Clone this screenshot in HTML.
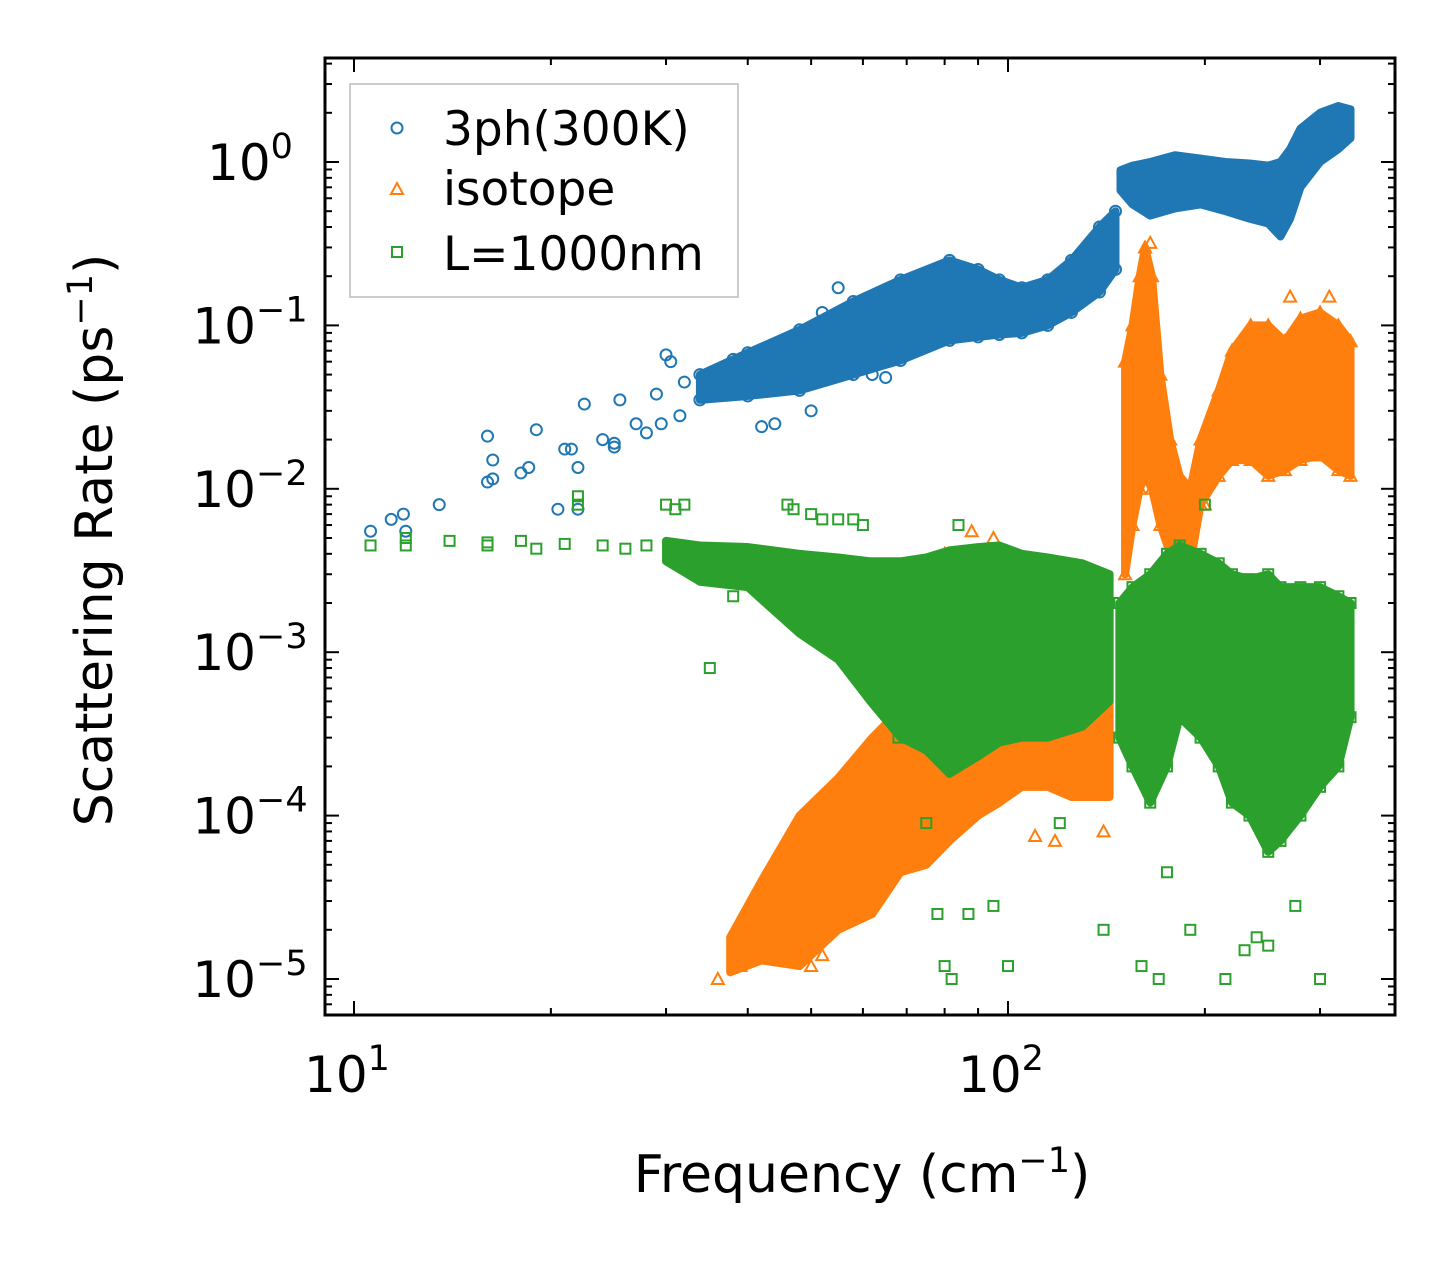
<!DOCTYPE html>
<html><head><meta charset="utf-8">
<style>
html,body{margin:0;padding:0;background:#fff;}
svg{display:block;font-family:"DejaVu Sans","Liberation Sans",sans-serif;}
</style></head>
<body>
<svg id="chart" width="1455" height="1265" viewBox="0 0 1455 1265" xmlns="http://www.w3.org/2000/svg">
<rect x="0" y="0" width="1455" height="1265" fill="#fff"/>
<g id="marks"></g>
<g id="axes"></g>
<rect x="325" y="58" width="1070" height="957" fill="none" stroke="#000" stroke-width="3"/>
<g>
<rect x="350" y="84" width="388" height="213" fill="#fff" fill-opacity="0.8" stroke="#bbb" stroke-width="1.5"/>
<circle cx="397" cy="128" r="5.5" fill="none" stroke="#1f77b4" stroke-width="2"/>
<text x="443" y="145" font-size="47">3ph(300K)</text>
<path d="M397,183 L403,194 L391,194 Z" fill="none" stroke="#ff7f0e" stroke-width="2"/>
<text x="443" y="205" font-size="47">isotope</text>
<rect x="392" y="247" width="10" height="10" fill="none" stroke="#2ca02c" stroke-width="2"/>
<text x="443" y="270" font-size="47">L=1000nm</text>
</g>
<text x="862" y="1192" font-size="52" text-anchor="middle">Frequency (cm<tspan dy="-20" font-size="35">−1</tspan><tspan dy="20">)</tspan></text>
<text transform="translate(112,540) rotate(-90)" font-size="52" text-anchor="middle">Scattering Rate (ps<tspan dy="-20" font-size="35">−1</tspan><tspan dy="20">)</tspan></text>
</svg>
<script>
// ---- data ----
const blueFreq = [33.8, 40, 48, 58, 68.5, 81.4, 90, 97, 105, 115, 125, 138, 146];
const blueLo   = [0.035,0.037,0.040,0.050,0.061,0.081,0.085,0.088,0.090,0.10,0.12,0.16,0.22];
const blueHi   = [0.050,0.068,0.094,0.14,0.19,0.25,0.22,0.19,0.17,0.19,0.25,0.40,0.50];
const blueFreq2 = [148.6,155,165,180,197,215,234,250,261,270,280,300,320,334];
const blueLo2   = [0.67,0.55,0.47,0.52,0.55,0.50,0.45,0.42,0.35,0.45,0.70,1.0,1.2,1.4];
const blueHi2   = [0.89,0.95,1.0,1.1,1.05,1.0,0.98,0.95,1.0,1.2,1.6,2.0,2.2,2.1];
const blueOutF = [10.6,11.4,11.9,12,13.5,16,16,16.3,16.3,18,18.5,19,20.5,21,21.5,22,22,22.5,24,25,25,25.5,27,28,29,30,30.5,31.5,32,29.5,38,42,44,46,50,52,55,62,65];
const blueOutV = [0.0055,0.0065,0.007,0.0055,0.008,0.021,0.011,0.015,0.0115,0.0125,0.0135,0.023,0.0075,0.0175,0.0175,0.0075,0.0135,0.033,0.02,0.019,0.018,0.035,0.025,0.022,0.038,0.066,0.06,0.028,0.045,0.025,0.062,0.024,0.025,0.05,0.03,0.12,0.17,0.05,0.048];

const orFreq = [37.6,42,48,55,62,68.5,75,81.4,90,97,105,115,125,143];
const orLo   = [1.1e-5,1.3e-5,1.2e-5,2e-5,2.5e-5,4.5e-5,5e-5,7e-5,1e-4,1.2e-4,1.5e-4,1.5e-4,1.3e-4,1.3e-4];
const orHi   = [1.8e-5,4e-5,1e-4,1.7e-4,3e-4,4.5e-4,8e-4,1.2e-3,1.5e-3,2e-3,1.8e-3,1.5e-3,1.8e-3,2e-3];
const orFreq2 = [151,155,159,162,166,171,177,183,190,197,210,220,235,250,265,280,300,320,334];
const orLo2   = [3e-3,6e-3,1e-2,1.2e-2,1e-2,6e-3,4e-3,4e-3,3.5e-3,8e-3,1.2e-2,1.5e-2,1.5e-2,1.2e-2,1.3e-2,1.5e-2,1.6e-2,1.3e-2,1.2e-2];
const orHi2   = [0.06,0.1,0.2,0.3,0.2,0.05,0.02,0.012,0.01,0.02,0.04,0.07,0.1,0.1,0.08,0.11,0.12,0.1,0.08];
const orOutF = [36,39,45,50,52,80,88,95,110,118,140,160,165,185,200,270,310,330];
const orOutV = [1e-5,1.2e-5,1.3e-5,1.2e-5,1.4e-5,4e-3,5.5e-3,5e-3,7.5e-5,7e-5,8e-5,2e-3,0.32,0.005,0.008,0.15,0.15,0.013];

const grFreq = [30,33.8,40,48,55,61.6,68.5,75,81.4,90,97,105,115,130,143];
const grLo   = [3.6e-3,2.7e-3,2.5e-3,1.3e-3,9e-4,5e-4,3e-4,2.5e-4,1.8e-4,2.3e-4,2.8e-4,3e-4,3e-4,3.5e-4,5e-4];
const grHi   = [4.8e-3,4.5e-3,4.4e-3,4e-3,3.8e-3,3.6e-3,3.6e-3,3.8e-3,4.2e-3,4.4e-3,4.5e-3,4e-3,3.8e-3,3.5e-3,3e-3];
const grFreq2 = [148,155,165,175,183,197,210,220,234,250,261,280,300,320,334];
const grLo2   = [3e-4,2e-4,1.2e-4,2e-4,4e-4,3e-4,2e-4,1.2e-4,1e-4,6e-5,7e-5,1e-4,1.5e-4,2e-4,4e-4];
const grHi2   = [2e-3,2.5e-3,3e-3,4e-3,4.5e-3,4e-3,3.5e-3,3e-3,2.8e-3,3e-3,2.5e-3,2.5e-3,2.5e-3,2.2e-3,2e-3];
const grOutF = [10.6,12,12,14,16,16,18,19,21,22,22,24,26,28,30,31,32,34,36,38,40,35,46,47,50,52,55,58,60,64,68,75,78,80,82,84,87,95,100,120,140,160,170,175,190,200,215,230,240,250,275,300];
const grOutV = [4.5e-3,5e-3,4.5e-3,4.8e-3,4.5e-3,4.7e-3,4.8e-3,4.3e-3,4.6e-3,9e-3,8e-3,4.5e-3,4.3e-3,4.5e-3,8e-3,7.5e-3,8e-3,4.2e-3,3.5e-3,2.2e-3,3e-3,8e-4,8e-3,7.5e-3,7e-3,6.5e-3,6.5e-3,6.5e-3,6e-3,5e-4,3e-4,9e-5,2.5e-5,1.2e-5,1e-5,6e-3,2.5e-5,2.8e-5,1.2e-5,9e-5,2e-5,1.2e-5,1e-5,4.5e-5,2e-5,8e-3,1e-5,1.5e-5,1.8e-5,1.6e-5,2.8e-5,1e-5];

const xTicks = [10,100];
const xTickLabels = ["10","10"];
const xTickExp = ["1","2"];
const yTicks = [1,0.1,0.01,1e-3,1e-4,1e-5];
const yTickExp = ["0","−1","−2","−3","−4","−5"];

// ---- axes ----
const X0=354, XD=654, Y0=162, YD=163.4;
const sx = f => X0 + (Math.log10(f)-1)*XD;
const sy = v => Y0 - Math.log10(v)*YD;
const NS="http://www.w3.org/2000/svg";
const marks=document.getElementById('marks');
const axes=document.getElementById('axes');
function mk(tag, attrs, parent){const e=document.createElementNS(NS,tag);for(const k in attrs)e.setAttribute(k,attrs[k]);parent.appendChild(e);return e;}

function band(fs,lo,hi,color,name){
  let pts=fs.map((f,i)=>sx(f)+','+sy(hi[i]));
  for(let i=fs.length-1;i>=0;i--)pts.push(sx(fs[i])+','+sy(lo[i]));
  const p=mk('polygon',{points:pts.join(' '),fill:color,stroke:color,'stroke-width':8,'stroke-linejoin':'round'},marks);
  
  
}
function marker(type,f,v,color,name){
  const x=sx(f),y=sy(v);let e;
  if(type==='c')e=mk('circle',{cx:x,cy:y,r:5.5,fill:'none',stroke:color,'stroke-width':2},marks);
  else if(type==='t')e=mk('path',{d:`M${x},${y-6} L${x+6},${y+5} L${x-6},${y+5} Z`,fill:'none',stroke:color,'stroke-width':2},marks);
  else e=mk('rect',{x:x-5,y:y-5,width:10,height:10,fill:'none',stroke:color,'stroke-width':2},marks);
  
  
}
const B='#1f77b4',O='#ff7f0e',G='#2ca02c';
band(blueFreq,blueLo,blueHi,B,'3ph-band-low');
band(blueFreq2,blueLo2,blueHi2,B,'3ph-band-high');
blueOutF.forEach((f,i)=>marker('c',f,blueOutV[i],B,'3ph-point'));
blueFreq.forEach((f,i)=>{marker('c',f,blueLo[i],B,'3ph-point');marker('c',f,blueHi[i],B,'3ph-point');});
band(orFreq,orLo,orHi,O,'isotope-band-low');
band(orFreq2,orLo2,orHi2,O,'isotope-band-high');
orOutF.forEach((f,i)=>marker('t',f,orOutV[i],O,'isotope-point'));
orFreq2.forEach((f,i)=>{marker('t',f,orLo2[i],O,'isotope-point');marker('t',f,orHi2[i],O,'isotope-point');});
band(grFreq,grLo,grHi,G,'boundary-band-low');
band(grFreq2,grLo2,grHi2,G,'boundary-band-high');
grOutF.forEach((f,i)=>marker('s',f,grOutV[i],G,'boundary-point'));
grFreq2.forEach((f,i)=>{marker('s',f,grLo2[i],G,'boundary-point');marker('s',f,grHi2[i],G,'boundary-point');});

const cp=mk('clipPath',{id:'pc'},document.getElementById('chart'));
mk('rect',{x:325,y:58,width:1070,height:957},cp);
marks.setAttribute('clip-path','url(#pc)');

// ticks
const T=325,R=1395,TOP=58,BOT=1015;
for(let d=9;d<=400;){
  const dec=Math.pow(10,Math.floor(Math.log10(d)+1e-9));
  const m=Math.round(d/dec);
  const x=sx(d);
  if(x>=T&&x<=R){const L=(m===1)?14:7;
    mk('line',{x1:x,y1:BOT,x2:x,y2:BOT-L,stroke:'#000','stroke-width':2},axes);
    mk('line',{x1:x,y1:TOP,x2:x,y2:TOP+L,stroke:'#000','stroke-width':2},axes);}
  d+=dec;
}
for(let e=-6;e<=1;e++)for(let m=1;m<=9;m++){
  const v=m*Math.pow(10,e),y=sy(v);
  if(y<TOP||y>BOT)continue;const L=(m===1)?14:7;
  mk('line',{x1:T,y1:y,x2:T+L,y2:y,stroke:'#000','stroke-width':2},axes);
  mk('line',{x1:R,y1:y,x2:R-L,y2:y,stroke:'#000','stroke-width':2},axes);
}
xTicks.forEach((f,i)=>{
  const t=mk('text',{x:sx(f)-7,y:1092,'font-size':50,'text-anchor':'middle'},axes);
  
  
  t.textContent=xTickLabels[i];
  const s=mk('tspan',{dy:-22,'font-size':35},t);s.textContent=xTickExp[i];
});
yTicks.forEach((v,i)=>{
  const t=mk('text',{x:250,y:sy(v)+18,'font-size':50,'text-anchor':'middle'},axes);
  
  
  t.textContent='10';
  const s=mk('tspan',{dy:-22,'font-size':35},t);s.textContent=yTickExp[i];
});
</script>
</body></html>
